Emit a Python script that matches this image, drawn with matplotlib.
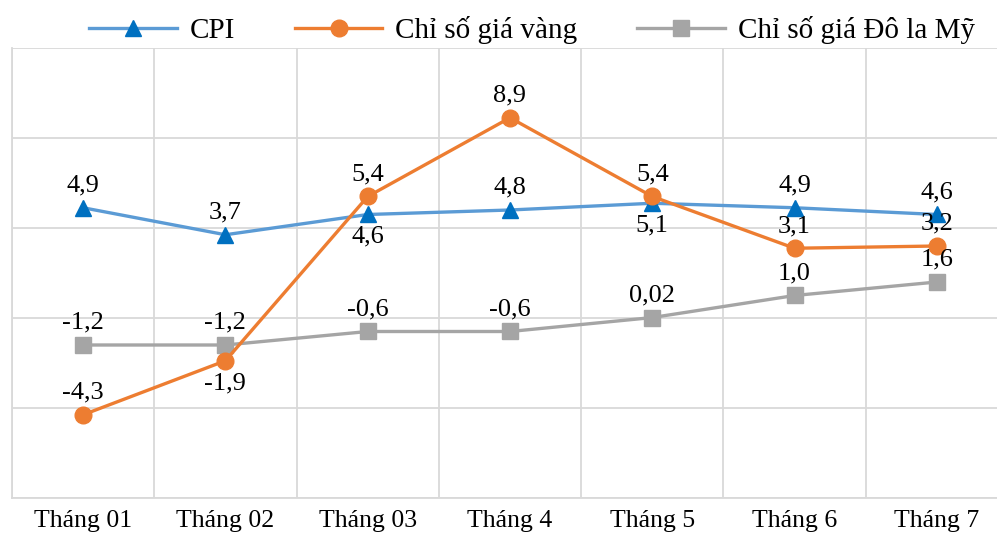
import matplotlib
matplotlib.use("Agg")
import matplotlib.pyplot as plt
from matplotlib.ticker import FixedLocator
import numpy as np

# Data
months = ["Tháng 01", "Tháng 02", "Tháng 03", "Tháng 4", "Tháng 5", "Tháng 6", "Tháng 7"]
cpi = [4.9, 3.7, 4.6, 4.8, 5.1, 4.9, 4.6]
gold = [-4.3, -1.9, 5.4, 8.9, 5.4, 3.1, 3.2]
usd = [-1.2, -1.2, -0.6, -0.6, 0.02, 1.0, 1.6]
cpi_labels = ["4,9", "3,7", "4,6", "4,8", "5,1", "4,9", "4,6"]
gold_labels = ["-4,3", "-1,9", "5,4", "8,9", "5,4", "3,1", "3,2"]
usd_labels = ["-1,2", "-1,2", "-0,6", "-0,6", "0,02", "1,0", "1,6"]
# label placement: +1 above the point, -1 below
cpi_side = [1, 1, -1, 1, -1, 1, 1]
gold_side = [1, -1, 1, 1, 1, 1, 1]
usd_side = [1, 1, 1, 1, 1, 1, 1]

series_names = ["CPI", "Chỉ số giá vàng", "Chỉ số giá Đô la Mỹ"]

plt.rcParams["font.family"] = ["Liberation Serif", "DejaVu Serif"]

W, H = 997, 536
fig = plt.figure(figsize=(W / 100, H / 100), dpi=100)
left_px, right_px, top_px, bottom_px = 12, 1008, 48, 498
ax = fig.add_axes([left_px / W, 1 - bottom_px / H,
                   (right_px - left_px) / W, (bottom_px - top_px) / H])

x = np.arange(len(months))
ax.set_xlim(-0.5, len(months) - 0.5)
ax.set_ylim(-8, 12)

grid_c = "#d9d9d9"
ax.yaxis.set_major_locator(FixedLocator([-8, -4, 0, 4, 8, 12]))
ax.xaxis.set_major_locator(FixedLocator(list(x)))
ax.xaxis.set_minor_locator(FixedLocator(list(np.arange(-0.5, len(months), 1.0))))
ax.grid(axis="y", which="major", color=grid_c, linewidth=1.3)
ax.grid(axis="x", which="minor", color=grid_c, linewidth=1.3)
ax.set_axisbelow(True)
for s in ["top", "right"]:
    ax.spines[s].set_visible(False)
for s in ["left", "bottom"]:
    ax.spines[s].set_color(grid_c)
    ax.spines[s].set_linewidth(1.3)
ax.set_yticklabels([])
ax.tick_params(axis="y", length=0)
ax.tick_params(axis="x", which="both", length=0, pad=9, labelsize=18.5)
ax.set_xticklabels(months)

l1, = ax.plot(x, cpi, color="#5b9bd5", lw=2.4, marker="^", ms=12,
              markerfacecolor="#0070c0", markeredgecolor="#0070c0", zorder=3)
l2, = ax.plot(x, gold, color="#ed7d31", lw=2.4, marker="o", ms=12,
              markerfacecolor="#ed7d31", markeredgecolor="#ed7d31", zorder=4)
l3, = ax.plot(x, usd, color="#a5a5a5", lw=2.4, marker="s", ms=11,
              markerfacecolor="#a5a5a5", markeredgecolor="#a5a5a5", zorder=2)

def put_labels(vals, labels, sides):
    for xi, v, t, s in zip(x, vals, labels, sides):
        ax.annotate(t, (xi, v), xytext=(0, 16 * s), textcoords="offset points",
                    ha="center", va="center", fontsize=19, color="#000000",
                    zorder=6)

put_labels(cpi, cpi_labels, cpi_side)
put_labels(gold, gold_labels, gold_side)
put_labels(usd, usd_labels, usd_side)

fig.legend([l1, l2, l3], series_names, loc="center",
           bbox_to_anchor=(532 / W, 1 - 30 / H), ncol=3, frameon=False,
           fontsize=21, handlelength=3.0, handletextpad=0.45,
           columnspacing=2.05, borderaxespad=0)

fig.savefig("out.png", dpi=100)
